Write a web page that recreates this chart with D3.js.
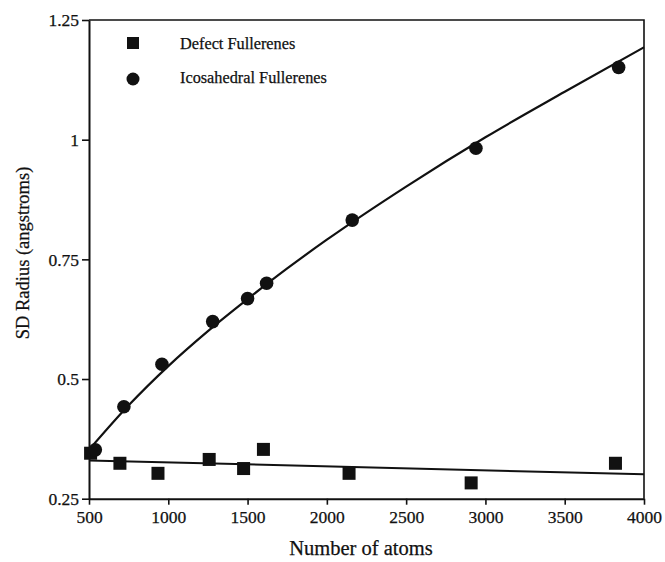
<!DOCTYPE html>
<html><head><meta charset="utf-8">
<script src="https://cdn.jsdelivr.net/npm/d3@7"></script>
<style>body{margin:0;background:#fff}svg{display:block}</style>
</head><body><svg id="c" width="665" height="562"></svg>
<script>
// Data
const icoAtoms = [540, 720, 960, 1280, 1500, 1620, 2160, 2940, 3840];
const icoRadius = [0.352, 0.442, 0.531, 0.620, 0.668, 0.700, 0.832, 0.982, 1.151];
const defAtoms = [510, 695, 935, 1258, 1475, 1600, 2140, 2910, 3820];
const defRadius = [0.345, 0.324, 0.303, 0.332, 0.313, 0.353, 0.303, 0.283, 0.324];
// fitted curves
const icoFitAtoms = [500, 750, 1000, 1250, 1500, 1750, 2000, 2500, 3000, 3500, 4000];
const icoFitRadius = [0.352, 0.445, 0.527, 0.600, 0.667, 0.731, 0.791, 0.902, 1.005, 1.100, 1.193];
const defFitAtoms = [500, 4000];
const defFitRadius = [0.330, 0.301];
const xTicks = [500, 1000, 1500, 2000, 2500, 3000, 3500, 4000];
const yTicks = [0.25, 0.5, 0.75, 1, 1.25];
const legendLabels = ["Defect Fullerenes", "Icosahedral Fullerenes"];

const FONT = '"Liberation Serif", "Times New Roman", Tinos, serif';
const svg = d3.select("#c");
const L = 89, R = 644, T = 20, B = 498.7;
const x = d3.scaleLinear().domain([500, 4000]).range([L, R]);
const y = d3.scaleLinear().domain([0.25, 1.25]).range([B, T]);

function styleText(sel, size) {
  sel.style("font-family", FONT).style("font-size", size + "px")
     .attr("fill", "#111").attr("stroke", "#111").attr("stroke-width", 0.25);
}

// frame top/right
svg.append("path").attr("d", `M${L},${T}H${R}V${B}`).attr("fill","none").attr("stroke","#111").attr("stroke-width",1.6);

const xAxis = svg.append("g").attr("transform", `translate(0,${B})`)
  .call(d3.axisBottom(x).tickValues(xTicks).tickFormat(d3.format("d")).tickSize(6).tickSizeOuter(0));
const yAxis = svg.append("g").attr("transform", `translate(${L},0)`)
  .call(d3.axisLeft(y).tickValues(yTicks).tickFormat(d => String(d)).tickSize(7).tickSizeOuter(0));
[xAxis, yAxis].forEach(g => {
  g.attr("font-family", null);
  g.select(".domain").attr("stroke","#111").attr("stroke-width",2);
  g.selectAll(".tick line").attr("stroke","#111").attr("stroke-width",1.6);
  styleText(g.selectAll("text"), 17.5);
});
xAxis.selectAll("text").attr("y", 9).attr("dy","0.85em");
yAxis.selectAll("text").attr("x",-10).attr("dy","0.34em");

const line = d3.line().x(d => x(d[0])).y(d => y(d[1])).curve(d3.curveMonotoneX);
svg.append("path").datum(icoFitAtoms.map((a,i)=>[a, icoFitRadius[i]]))
  .attr("d", line).attr("fill","none").attr("stroke","#111").attr("stroke-width",2.2);
svg.append("path").datum(defFitAtoms.map((a,i)=>[a, defFitRadius[i]]))
  .attr("d", line).attr("fill","none").attr("stroke","#111").attr("stroke-width",2);

const S = 13;
svg.append("g").selectAll("rect").data(defAtoms.map((a,i)=>[a, defRadius[i]])).join("rect")
  .attr("x", d => x(d[0]) - S/2).attr("y", d => y(d[1]) - S/2).attr("width", S).attr("height", S).attr("fill","#111");
svg.append("g").selectAll("circle").data(icoAtoms.map((a,i)=>[a, icoRadius[i]])).join("circle")
  .attr("cx", d => x(d[0])).attr("cy", d => y(d[1])).attr("r", 6.8).attr("fill","#111");

// legend
const lg = svg.append("g");
lg.append("rect").attr("x", 127).attr("y", 37).attr("width", 12).attr("height", 12).attr("fill","#111");
lg.append("circle").attr("cx", 133).attr("cy", 79).attr("r", 6.5).attr("fill","#111");
styleText(lg.selectAll("text").data(legendLabels).join("text")
  .attr("x", 180).attr("y", (d,i) => i ? 83 : 48.5).text(d => d), 16.3);

styleText(svg.append("text").attr("x", 361).attr("y", 555).attr("text-anchor","middle").text("Number of atoms"), 20.5);
styleText(svg.append("text").attr("transform","translate(29,253) rotate(-90)").attr("text-anchor","middle").text("SD Radius (angstroms)"), 18.5);
</script></body></html>
